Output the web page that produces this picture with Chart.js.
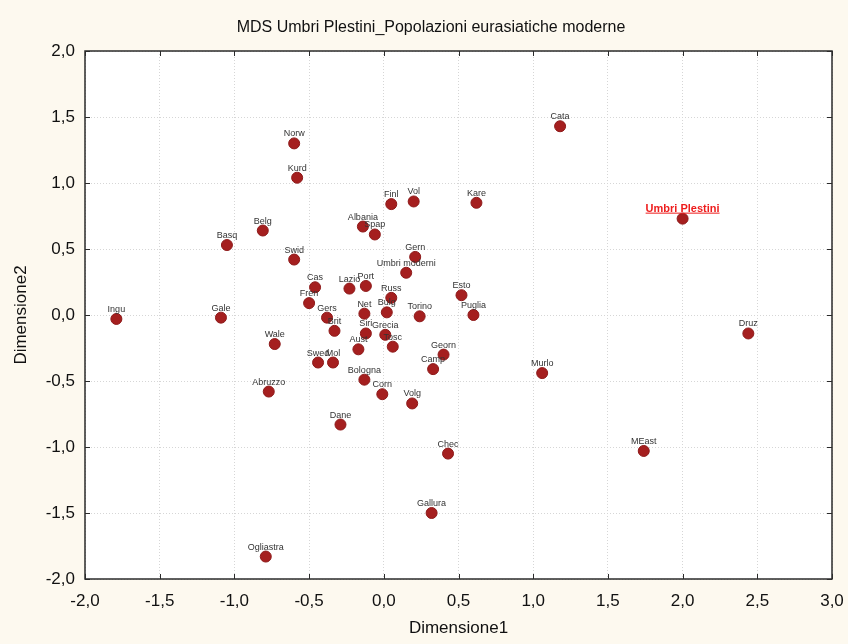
<!DOCTYPE html>
<html>
<head>
<meta charset="utf-8">
<script src="https://cdn.jsdelivr.net/npm/chart.js@4/dist/chart.umd.min.js"></script>
<style>
  html, body { margin: 0; padding: 0; background: #fdf9ef; }
  #wrap { width: 848px; height: 644px; }
</style>
</head>
<body>
<div id="wrap"><canvas id="mdsChart" width="848" height="644"></canvas></div>
<script>
// MDS coordinates per population
const names = ['Norw', 'Kurd', 'Belg', 'Basq', 'Swid', 'Cas', 'Fren', 'Gers', 'Ingu', 'Gale',
    'Cata', 'Finl', 'Vol', 'Kare', 'Albania', 'Spap', 'Gern', 'Umbri moderni', 'Lazio', 'Port',
    'Russ', 'Esto', 'Net', 'Bulg', 'Torino', 'Puglia', 'Wale', 'Swed', 'Mol', 'Brit',
    'Abruzzo', 'Ogliastra', 'Siri', 'Grecia', 'Tosc', 'Aust', 'Georn', 'Camp', 'Murlo', 'Bologna',
    'Corn', 'Volg', 'Dane', 'Chec', 'Gallura', 'Umbri Plestini', 'Druz', 'MEast'];
const dim1 = [-0.60, -0.58, -0.81, -1.05, -0.60, -0.46, -0.50, -0.38, -1.79, -1.09,
    1.18, 0.05, 0.20, 0.62, -0.14, -0.06, 0.21, 0.15, -0.23, -0.12,
    0.05, 0.52, -0.13, 0.02, 0.24, 0.60, -0.73, -0.44, -0.34, -0.33,
    -0.77, -0.79, -0.12, 0.01, 0.06, -0.17, 0.40, 0.33, 1.06, -0.13,
    -0.01, 0.19, -0.29, 0.43, 0.32, 2.00, 2.44, 1.74];
const dim2 = [1.30, 1.04, 0.64, 0.53, 0.42, 0.21, 0.09, -0.02, -0.03, -0.02,
    1.43, 0.84, 0.86, 0.85, 0.67, 0.61, 0.44, 0.32, 0.20, 0.22,
    0.13, 0.15, 0.01, 0.02, -0.01, 0.00, -0.22, -0.36, -0.36, -0.12,
    -0.58, -1.83, -0.14, -0.15, -0.24, -0.26, -0.30, -0.41, -0.44, -0.49,
    -0.60, -0.67, -0.83, -1.05, -1.50, 0.73, -0.14, -1.03];
const highlighted = 'Umbri Plestini';

const xTicks = [-2.0, -1.5, -1.0, -0.5, 0.0, 0.5, 1.0, 1.5, 2.0, 2.5, 3.0];
const yTicks = [-2.0, -1.5, -1.0, -0.5, 0.0, 0.5, 1.0, 1.5, 2.0];

const chartTitle = 'MDS Umbri Plestini_Popolazioni eurasiatiche moderne';
const FONT = '"Liberation Sans", Arial, sans-serif';

const fmt = v => v.toFixed(1).replace('.', ',');

const points = names.map((n, i) => ({ x: dim1[i], y: dim2[i] }));

// background, frame, inward ticks, title and point labels
const decorPlugin = {
    id: 'decor',
    beforeDraw(chart) {
        const { ctx, chartArea: a } = chart;
        ctx.save();
        ctx.fillStyle = '#fdf9ef';
        ctx.fillRect(0, 0, chart.width, chart.height);
        ctx.fillStyle = '#ffffff';
        ctx.fillRect(a.left, a.top, a.right - a.left, a.bottom - a.top);
        ctx.restore();
    },
    afterDatasetsDraw(chart) {
        const { ctx } = chart;
        const meta = chart.getDatasetMeta(0);
        ctx.save();
        ctx.textAlign = 'center';
        ctx.textBaseline = 'alphabetic';
        meta.data.forEach((pt, i) => {
            const name = names[i];
            if (name === highlighted) {
                ctx.font = 'bold 11px ' + FONT;
                ctx.fillStyle = '#ee1c1c';
                ctx.fillText(name, pt.x, pt.y - 7);
                const w = ctx.measureText(name).width;
                ctx.fillRect(pt.x - w / 2, pt.y - 6, w, 1);
            } else {
                ctx.font = '9px ' + FONT;
                ctx.fillStyle = '#333333';
                ctx.fillText(name, pt.x, pt.y - 7);
            }
        });
        ctx.restore();
    },
    afterDraw(chart) {
        const { ctx, chartArea: a, scales } = chart;
        ctx.save();
        ctx.strokeStyle = '#2b2b2b';
        ctx.lineWidth = 1.5;
        ctx.strokeRect(a.left, a.top, a.right - a.left, a.bottom - a.top);
        ctx.lineWidth = 1;
        ctx.beginPath();
        xTicks.forEach(v => {
            const x = Math.round(scales.x.getPixelForValue(v)) + 0.5;
            ctx.moveTo(x, a.bottom); ctx.lineTo(x, a.bottom - 5);
            ctx.moveTo(x, a.top); ctx.lineTo(x, a.top + 5);
        });
        yTicks.forEach(v => {
            const y = Math.round(scales.y.getPixelForValue(v)) + 0.5;
            ctx.moveTo(a.left, y); ctx.lineTo(a.left + 5, y);
            ctx.moveTo(a.right, y); ctx.lineTo(a.right - 5, y);
        });
        ctx.stroke();

        ctx.fillStyle = '#111111';
        ctx.font = '16px ' + FONT;
        ctx.textAlign = 'center';
        ctx.textBaseline = 'middle';
        ctx.fillText(chartTitle, 431, 28);
        ctx.restore();
    }
};

new Chart(document.getElementById('mdsChart').getContext('2d'), {
    type: 'scatter',
    data: {
        datasets: [{
            label: 'MDS',
            data: points,
            backgroundColor: '#a51f1f',
            borderColor: '#8e1a1a',
            borderWidth: 1,
            pointRadius: 5.5,
            pointHoverRadius: 5.5
        }]
    },
    options: {
        responsive: false,
        animation: false,
        events: [],
        layout: { padding: { top: 51, right: 16, left: 0, bottom: 0 } },
        plugins: {
            legend: { display: false },
            title: { display: false },
            tooltip: { enabled: false }
        },
        scales: {
            x: {
                type: 'linear',
                min: -2,
                max: 3,
                afterFit: s => { s.height = 65; s.paddingLeft = 0; s.paddingRight = 0; },
                afterBuildTicks: s => { s.ticks = xTicks.map(v => ({ value: v })); },
                grid: { color: '#d6d6d6', drawTicks: false, lineWidth: 1 },
                border: { display: false, dash: [1, 2] },
                ticks: {
                    padding: 12,
                    color: '#111111',
                    font: { family: FONT, size: 17 },
                    callback: v => fmt(v)
                },
                title: {
                    display: true,
                    text: 'Dimensione1',
                    color: '#111111',
                    font: { family: FONT, size: 17 },
                    padding: { top: 0, bottom: 5 }
                }
            },
            y: {
                type: 'linear',
                min: -2,
                max: 2,
                afterFit: s => { s.width = 85; s.paddingTop = 0; s.paddingBottom = 0; },
                afterBuildTicks: s => { s.ticks = yTicks.map(v => ({ value: v })); },
                grid: { color: '#d6d6d6', drawTicks: false, lineWidth: 1 },
                border: { display: false, dash: [1, 2] },
                ticks: {
                    padding: 10,
                    color: '#111111',
                    font: { family: FONT, size: 17 },
                    callback: v => fmt(v)
                },
                title: {
                    display: true,
                    text: 'Dimensione2',
                    color: '#111111',
                    font: { family: FONT, size: 17 },
                    padding: { top: 11, bottom: 0 }
                }
            }
        }
    },
    plugins: [decorPlugin]
});
</script>
</body>
</html>
